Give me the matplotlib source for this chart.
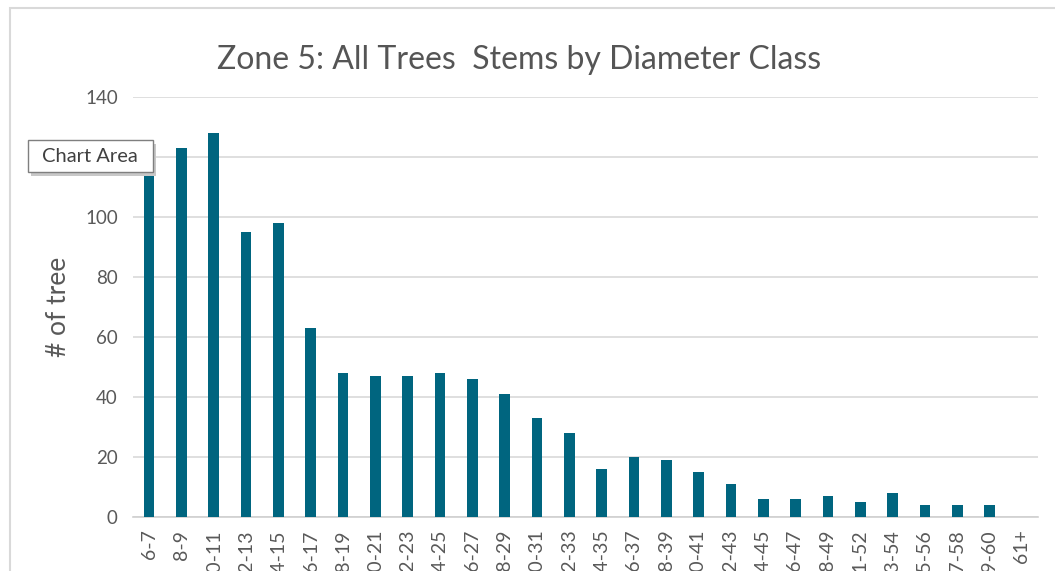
import matplotlib.pyplot as plt
from matplotlib.patches import Rectangle

# 直径クラスごとの本数
classes = ["6-7", "8-9", "10-11", "12-13", "14-15", "16-17", "18-19", "20-21",
           "22-23", "24-25", "26-27", "28-29", "30-31", "32-33", "34-35", "36-37",
           "38-39", "40-41", "42-43", "44-45", "46-47", "48-49", "51-52", "53-54",
           "55-56", "57-58", "59-60", "61+"]
stems = [118, 123, 128, 95, 98, 63, 48, 47, 47, 48, 46, 41, 33, 28, 16, 20,
         19, 15, 11, 6, 6, 7, 5, 8, 4, 4, 4, 0]
y_ticks = [0, 20, 40, 60, 80, 100, 120, 140]
# 120 はツールチップに隠れている
y_labels = ["0", "20", "40", "60", "80", "100", "", "140"]

BAR = "#00657f"
TEXT = "#595959"
GRID = "#d9d9d9"


def main():
    plt.rcParams["font.family"] = ["Lato", "DejaVu Sans"]

    fig = plt.figure(figsize=(10.55, 5.71), dpi=100)
    W, H = 1055, 571
    ax = fig.add_axes([133 / W, 1 - 517 / H, 905 / W, 420 / H])

    x = range(len(classes))
    ax.bar(x, stems, width=0.33, color=BAR, zorder=3)

    ax.set_xlim(-0.5, len(classes) - 0.5)
    ax.set_ylim(0, 140)
    ax.set_yticks(y_ticks)
    ax.set_yticklabels(y_labels)
    ax.set_xticks(list(x))
    ax.set_xticklabels(classes, rotation=90, fontsize=14, color=TEXT)
    ax.tick_params(axis="y", labelsize=13.5, labelcolor=TEXT, length=0, pad=11)
    ax.tick_params(axis="x", length=0, pad=9)

    ax.grid(axis="y", color=GRID, linewidth=1.2, zorder=0)
    for side in ["top", "right", "left"]:
        ax.spines[side].set_visible(False)
    ax.spines["bottom"].set_color("#d0d0d0")
    ax.spines["bottom"].set_linewidth(1.2)

    fig.text(58 / W, 1 - 307 / H, "# of tree", rotation=90, ha="center",
             va="center", fontsize=19, color=TEXT)
    fig.text(519 / W, 1 - 60 / H, "Zone 5: All Trees  Stems by Diameter Class",
             ha="center", va="center", fontsize=23, color="#555555")

    # グラフエリアの枠
    fig.patches.append(Rectangle((10 / W, -0.1), 1.2, 1 - 8 / H + 0.1,
                                 transform=fig.transFigure, fill=False,
                                 edgecolor="#d9d9d9", linewidth=1.5))

    # ツールチップ
    fig.patches.append(Rectangle((31 / W, 1 - 176 / H), 125 / W, 32 / H,
                                 transform=fig.transFigure, facecolor="#c8c8c8",
                                 edgecolor="none", zorder=5))
    fig.patches.append(Rectangle((28 / W, 1 - 172 / H), 125 / W, 32 / H,
                                 transform=fig.transFigure, facecolor="white",
                                 edgecolor="#7f7f7f", linewidth=1, zorder=6))
    fig.text(90 / W, 1 - 156 / H, "Chart Area", ha="center", va="center",
             fontsize=14.5, color="#404040", zorder=7)

    fig.savefig("out.png", dpi=100)


if __name__ == "__main__":
    main()
